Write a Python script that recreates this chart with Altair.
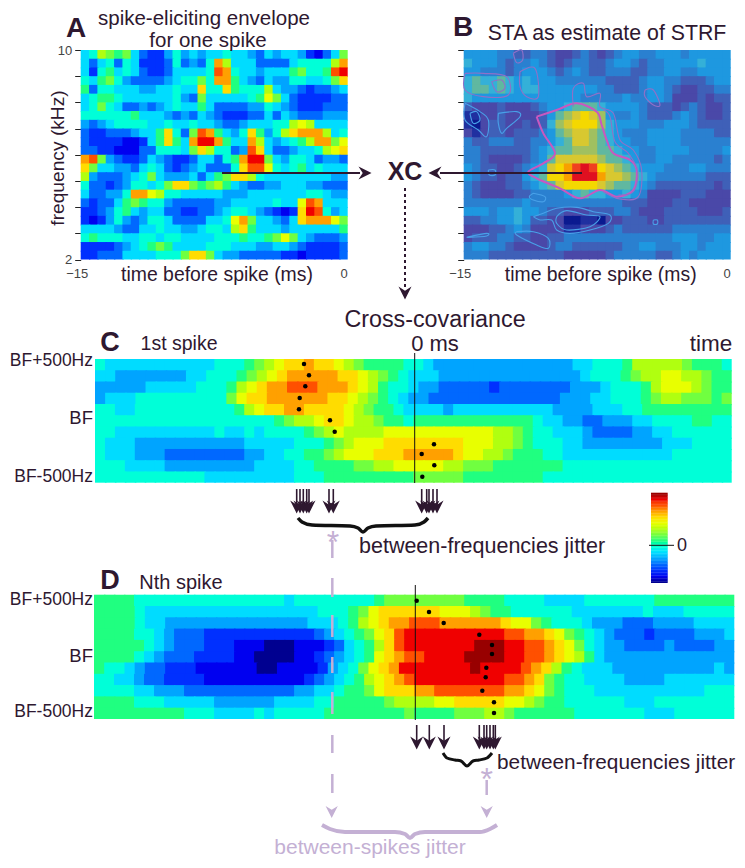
import altair as alt
import pandas as pd
import numpy as np

# ---------- data (hex digit = colour level 0..15) ----------
PANEL_A = [
"5698785322"+"4645455655"+"4354554213"+"58",
"5356365222"+"363436C955"+"5333356666"+"9C",
"5267565322"+"355556DC65"+"5455578667"+"DE",
"6578643333"+"456686CC75"+"4354466556"+"8B",
"7366555445"+"5655B66B76"+"6695443233"+"45",
"5677655555"+"5643855555"+"67A8532222"+"33",
"5686533434"+"5655753333"+"4465432223"+"33",
"6666667555"+"4343543222"+"3353543334"+"44",
"4345666655"+"6556554334"+"555669A955"+"55",
"3223334557"+"B638DC7546"+"B7469BCCC9"+"56",
"3222211257"+"B75CEEC755"+"C9545679CC"+"8A",
"3322111336"+"6658B96634"+"DB53345569"+"AB",
"CD84322354"+"322355367C"+"EE85466534"+"43",
"B855443565"+"323453336B"+"DDA6567565"+"55",
"9433345685"+"44453578BB"+"9655555555"+"44",
"6332346656"+"8BB8789754"+"3344555443"+"33",
"533446CCA9"+"6655555444"+"5555555665"+"44",
"3233578766"+"4333334455"+"555655ADC5"+"55",
"2234675455"+"3322334566"+"543212BED6"+"45",
"2124643466"+"53333556AC"+"855435BCCC"+"A8",
"5555433556"+"554456659B"+"7555455555"+"57",
"6766655665"+"6655556667"+"6678A85433"+"34",
"2222345678"+"7555566655"+"5445543222"+"23",
"2233355556"+"668BB85443"+"3333221222"+"23",
]
PANEL_B = [
"5555443344"+"3223432345"+"5445554555"+"55",
"6555434454"+"3234433455"+"4344555565"+"55",
"5544434555"+"4345433444"+"3344554455"+"55",
"6766765655"+"5444444333"+"3455443334"+"55",
"6776765665"+"5555554433"+"3455432233"+"44",
"6555555555"+"5555444445"+"4455422232"+"33",
"3222322234"+"5567776555"+"5433323432"+"23",
"1122322223"+"5789A98544"+"5433345432"+"23",
"1023322323"+"689AAA8655"+"5444555433"+"33",
"2123323334"+"5789987654"+"4455554444"+"33",
"4334443344"+"5679987655"+"4455554444"+"44",
"4433333345"+"6778887765"+"5445555444"+"45",
"4432222345"+"7999998776"+"5445544444"+"34",
"5433223456"+"9ABCDCA987"+"6555444554"+"44",
"5433233567"+"AABDDDB998"+"7654444443"+"33",
"4322233456"+"79AAAA9877"+"6543333333"+"23",
"4322223344"+"4456766556"+"5422223332"+"22",
"4444444544"+"4444444443"+"3322233222"+"22",
"5554556554"+"3322233344"+"3222333322"+"23",
"3344556533"+"2200110223"+"3322333333"+"33",
"2223345422"+"2211222343"+"3333344444"+"44",
"2333443322"+"3344444444"+"4444455544"+"55",
"4554432222"+"3443333334"+"4554445545"+"55",
"4443333333"+"3322222344"+"4443345455"+"55",
]
PANEL_C = [
"65555555555566678"+"9ABBCBBA9877776"+"6544444444444444"+"5566679999987776",
"55444444455666789ABCCCCCBBA98765"+"5544444444444444"+"56667899AA99877",
"444445555566679ABCCDDDCCCBA97665"+"4433333233333334"+"44566679AAA9877",
"45556666666668ABBCCCCCCBBA987654"+"4333333333333344"+"455666789988878",
"6655666666666679ABBCCBBBBA987765"+"5554555555555544"+"4455566777777777",
"6666666666666666667899ABBA998776"+"7777777777776554"+"4334445566667766",
"665555555555655656666789A9999AAA"+"AAAAAAAA99876655"+"5433334455666666",
"65554444444444455555666789AAABBB"+"BBBBBAAA99876665"+"5444444445556666",
"6555444333333334455667789AAABBBC"+"CCCCBAA998777665"+"5555555555666666",
"666555544444444455556677778899AA"+"AAA99888777777766"+"666666666666666",
"66666666666555555555666777777777"+"8888877777777666"+"6666666666666666",
]
PANEL_D = [
"77776666666666666665666666667888"+"8888877776666555"+"5666666677777777",
"777765555555555555555566678ABBB"+"BBBAAA9877666666"+"5555555655566666",
"777765544444444444444555679ABCC"+"DDDCCCCCCBAA8766"+"6544433344445555",
"7777665433322222222222345678ABDE"+"EEEEEEEEEDDCCBA8"+"7654333233334445",
"77777654333222111000111235679BDE"+"EEEEEEFFFEEDDCBA"+"8654433334333344",
"7777654333222211000011234567ABCD"+"DEEEEFFFFEEDDCBA"+"9754444444444444",
"766543322211111100111124568ABCE"+"EEEEEEFEEEEDCB97"+"6555444444444454",
"6655433222211111111112345679ABCD"+"EEEEEEEEEDDCB876"+"6555544445555555",
"6666554443333333333344556778ABBB"+"CCDDDDDDDCCBA876"+"6655555555555666",
"77776665555544444455556677777899"+"99AABBBBBAA98776"+"6666655566666666",
"77777777766655556566666777777778"+"7777888998777777"+"6666666555666666",
]
C_DOTS_X = [304,309,305.3,299.7,299,330,334.7,434,421.7,434.3,422.3]
C_DOTS_Y = [364,375.3,386.3,398,409.3,420.3,431.7,444.3,454,465.3,476.7]
D_DOTS_X = [416.7,429,443.7,479.3,492,492,486.3,485.7,482.3,494,494]
D_DOTS_Y = [600.7,612,623,634.7,645,654,667.7,677.3,690.7,702.3,713]
C_ARROWS = [296.7,300,303.3,306.7,309,329,333.3,421.7,426.7,429,433,437]
D_ARROWS = [416.7,429.3,444,479.3,484,486.7,490,493.3,495.3]

JET = ["#000090","#0000f0","#0030ff","#0068ff","#00a4ff","#00dcff","#00ffd8","#20ff80",
       "#70ff40","#b0ff10","#e8ff00","#ffdc00","#ffa000","#ff5000","#f00000","#980000"]
STA = ["#0a1a90","#2030a0","#4a48a8","#3f60b8","#2a80d0","#1e98e0","#34b0d8","#60b8a0",
       "#a0c060","#d8c830","#f4d800","#f8a000","#f04020","#e01020","#e01020","#c00020"]
LEVELS = list(range(16))
INK = "#2e1830"
PALE = "#c4b0d4"

BRACE_C = ([298,302,312,350,358,363,368,376,415,424,428],[518,522,525,526,528,532,528,526,525,522,518])
BRACE_D = ([443,447,455,461,467,473,479,487,492],[753,758,760,761,766,761,760,758,753])
BRACE_P = ([322,330,345,395,405,410,415,425,480,490,497],[825,829,832,832,834,838,834,832,832,829,825])

THICK = [[(500,350),(560,330),(620,310),(680,335),(695,375),(710,420),(730,460),(780,480),(800,510),(790,570),
          (740,590),(690,570),(630,595),(570,565),(500,535),(475,515),(520,490),(555,460),(520,400),(500,350)]]
THIN_PINK = [[(285,220),(340,220),(410,230),(415,285),(340,290),(285,270),(285,220)],
             [(365,245),(395,240),(405,265),(380,275),(365,245)],
             [(450,215),(495,205),(505,290),(470,290),(450,260),(450,215)],
             [(430,160),(455,150),(458,180),(440,188),(430,160)],
             [(825,270),(850,270),(870,315),(850,315),(825,290),(825,270)],
             [(610,320),(610,265),(640,250),(650,290),(690,280),(690,320),(730,340),(750,420),(790,450),(815,510),(805,590),(750,597),(700,575)],
             [(700,330),(720,350),(735,425),(775,460),(803,515),(790,575),(745,585)]]
THIN_BLUE = [[(490,650),(520,640),(560,625),(620,622),(670,635),(720,645),(715,670),(660,690),(600,700),(560,690),(545,660),(510,660),(490,650)],
             [(560,650),(590,632),(650,645),(690,650),(660,680),(590,690),(560,670),(560,650)],
             [(285,310),(330,335),(355,360),(350,410),(325,390),(285,360),(285,310)],
             [(300,340),(320,335),(330,360),(310,370),(300,340)],
             [(385,340),(440,335),(450,350),(410,385),(395,400),(385,370),(385,340)],
             [(490,580),(525,590),(520,605),(490,600),(478,590),(490,580)],
             [(440,695),(490,695),(535,715),(535,745),(500,735),(440,705),(440,695)],
             [(295,710),(350,700),(350,708),(295,712),(295,710)],
             [(355,510),(375,510),(375,525),(358,525),(355,510)],
             [(850,660),(862,660),(862,672),(850,672),(850,660)]]

# ---------- helpers ----------
FX = alt.Scale(domain=[0,745], range=[-8,737])
FY = alt.Scale(domain=[0,868], range=[-8,860])
X = lambda f="x": alt.X(f"{f}:Q", scale=FX, axis=None)
Y = lambda f="y": alt.Y(f"{f}:Q", scale=FY, axis=None)

def cells(rows, x0, x1, y0, y1):
    out = []
    for r, row in enumerate(rows):
        n = len(row)
        for c, ch in enumerate(row):
            out.append(dict(x=x0+(x1-x0)*c/n,
                            x2=x1 if c == n-1 else x0+(x1-x0)*(c+1.15)/n,
                            y=y0+(y1-y0)*r/len(rows),
                            y2=y1 if r == len(rows)-1 else y0+(y1-y0)*(r+1.1)/len(rows),
                            v=int(ch,16)))
    return pd.DataFrame(out)

def heat(df, palette, xs, ys, xaxis=None, yaxis=None):
    return alt.Chart(df).mark_rect(strokeWidth=0).encode(
        x=alt.X("x:Q", scale=xs, axis=xaxis), x2="x2:Q",
        y=alt.Y("y:Q", scale=ys, axis=yaxis), y2="y2:Q",
        color=alt.Color("v:Q", scale=alt.Scale(domain=LEVELS, range=palette), legend=None))

def text(x, y, s, size, color=INK, bold=False, align="center", angle=0):
    kw = dict(angle=angle) if angle else {}
    return alt.Chart(pd.DataFrame(dict(x=[x],y=[y],s=[s]))).mark_text(
        font="Liberation Sans", fontSize=size, color=color, align=align, baseline="middle",
        fontWeight="bold" if bold else "normal", **kw).encode(x=X(), y=Y(), text="s:N")

def poly(xs, ys, color, width, dash=None, interp="linear"):
    kw = dict(strokeDash=dash) if dash else {}
    return alt.Chart(pd.DataFrame(dict(x=xs,y=ys,o=range(len(xs))))).mark_line(
        color=color, strokeWidth=width, interpolate=interp, **kw).encode(x=X(), y=Y(), order="o:Q")

def vrules(xs, y0, y1, color, width):
    return alt.Chart(pd.DataFrame(dict(x=xs,y=y0,y2=y1))).mark_rule(color=color, strokeWidth=width).encode(
        x=X(), y=Y(), y2="y2:Q")

ARROW = "M -1 -1 L 0 -0.35 L 1 -1 L 0 1 Z"
def heads(xs, ys, color, size, angle=0):
    kw = dict(angle=angle) if angle else {}
    return alt.Chart(pd.DataFrame(dict(x=xs,y=ys))).mark_point(
        shape=ARROW, filled=True, color=color, opacity=1, size=size, strokeWidth=0, **kw).encode(x=X(), y=Y())

def contours(groups, color, width):
    rows = []
    for g, pts in enumerate(groups):
        for o,(a,b) in enumerate(pts):
            rows.append(dict(x=370+a/3, y=b/3, g=g, o=o))
    return alt.Chart(pd.DataFrame(rows)).mark_line(color=color, strokeWidth=width, interpolate="cardinal").encode(
        x=X(), y=Y(), detail="g:N", order="o:Q")

def freq_axis(px, labels):
    return alt.Axis(values=list(range(2,11)), orient="left", offset=-(px-8), title=None, grid=False, domain=False,
                    ticks=True, tickSize=6, tickColor="#222222", labels=labels, labelFontSize=13,
                    labelFont="Liberation Sans", labelColor="#444444", labelPadding=3,
                    labelExpr="datum.value==10||datum.value==2 ? datum.label : ''")
def time_axis(bottom):
    return alt.Axis(values=[-15,0], orient="bottom", offset=-(852-(bottom-8)), title=None, grid=False, domain=False,
                    ticks=False, labelFontSize=13, labelFont="Liberation Sans", labelColor="#444444", labelPadding=8,
                    labelFlush=False, labelOffset=-4)

# ---------- heatmaps through their own scales ----------
a_x0,a_x1,b_x0,b_x1 = 80.7,347.7,463.7,730.7
top,bot = 50,259.5
a = heat(cells(PANEL_A,-15,0,10,2), JET,
         alt.Scale(domain=[-15,0], range=[a_x0-8,a_x1-8]), alt.Scale(domain=[2,10], range=[bot-8,top-8]),
         time_axis(bot), freq_axis(a_x0, True))
b = heat(cells(PANEL_B,-15,0,10,2), STA,
         alt.Scale(domain=[-15,0], range=[b_x0-8,b_x1-8]), alt.Scale(domain=[2,10], range=[bot-8,top-8]),
         time_axis(bot), freq_axis(b_x0, False))
c = heat(cells(PANEL_C,0,1,0,1), JET,
         alt.Scale(domain=[0,1], range=[95-8,731.7-8]), alt.Scale(domain=[0,1], range=[359-8,482.7-8]))
d = heat(cells(PANEL_D,0,1,0,1), JET,
         alt.Scale(domain=[0,1], range=[94-8,734.3-8]), alt.Scale(domain=[0,1], range=[594.7-8,719-8]))
bar_levels = np.arange(0,15.01,0.25)
bar = pd.DataFrame(dict(x=0,x2=1,y=bar_levels,y2=bar_levels+0.3,v=bar_levels))
cbar = heat(bar, JET, alt.Scale(domain=[0,1], range=[651-8,667.7-8]),
            alt.Scale(domain=[0,15.25], range=[583-8,493-8]))

# ---------- annotation layers ----------
marks = [a,b,c,d,cbar,
    contours(THICK,"#c858c0",2), contours(THIN_PINK,"#9070c8",1.1), contours(THIN_BLUE,"#48a0e8",1.1),
    # arrows A/B -> XC
    poly([222,360],[173,173],INK,2), heads([365],[173],INK,170,270),
    poly([582,440],[173,173],INK,2), heads([435],[173],INK,170,90),
    poly([405,405],[188,288],INK,2,[3,3]), heads([405],[293],INK,170),
    # zero lines
    vrules([414.7],[353],[483],"#111111",1), vrules([415.3],[585],[720],"#111111",1),
    # pale jitter guides
    vrules([332.3]*7,[540,578,615,657,692,735,774],[558,597,637,673,714,753,793],PALE,2.5),
    vrules([486.7],[780],[795],PALE,2.5),
    heads([331.7,486.7],[812,812],PALE,150),
    poly(*BRACE_P,PALE,4,interp="monotone"),
    text(333,543,"*",32,PALE), text(486.7,780,"*",32,PALE),
    # spike arrows
    vrules(C_ARROWS,[489]*12,[506]*12,INK,1.6), heads(C_ARROWS,[507]*12,INK,170),
    vrules(D_ARROWS,[725]*9,[742]*9,INK,1.6), heads(D_ARROWS,[743]*9,INK,170),
    poly(*BRACE_C,"#111111",3.5,interp="monotone"), poly(*BRACE_D,"#111111",3,interp="monotone"),
    # peak dots
    alt.Chart(pd.DataFrame(dict(x=C_DOTS_X+D_DOTS_X,y=C_DOTS_Y+D_DOTS_Y))).mark_point(
        shape="circle",filled=True,color="#000000",size=20,opacity=1).encode(x=X(),y=Y()),
    # colourbar tick
    poly([649,674],[545.3,545.3],"#111111",1),
    # texts
    text(76,29,"A",28,INK,True), text(204,19,"spike-eliciting envelope",20.5), text(208,40.5,"for one spike",20.5),
    text(463,28,"B",28,INK,True), text(607,34,"STA as estimate of STRF",21.3),
    text(58,158,"frequency (kHz)",19.2,angle=270),
    text(217,275,"time before spike (ms)",19.4), text(600.7,275,"time before spike (ms)",19.4),
    text(405,172,"XC",25,INK,True),
    text(435,320,"Cross-covariance",23.3),
    text(110,343,"C",27,INK,True), text(179,344,"1st spike",19.5), text(435,344,"0 ms",22), text(711,344,"time",22.5),
    text(93,361,"BF+500Hz",17.5,align="right"), text(93,418,"BF",18.5,align="right"), text(93,477,"BF-500Hz",17.5,align="right"),
    text(110,581,"D",27,INK,True), text(181,583,"Nth spike",20),
    text(93,600,"BF+500Hz",17.5,align="right"), text(93,656,"BF",18.5,align="right"), text(93,712,"BF-500Hz",17.5,align="right"),
    text(359,547,"between-frequencies jitter",21.5,align="left"),
    text(497,763,"between-frequencies jitter",20.8,align="left"),
    text(682,546,"0",18),
    text(370,848,"between-spikes jitter",21,PALE),
]

chart = alt.layer(*marks).resolve_scale(x="independent", y="independent", color="independent").properties(
    width=729, height=852, padding=0, autosize=alt.AutoSizeParams(type="none"),
    background="white").configure_view(stroke=None)

chart.save("out.html", embed_options={"renderer": "svg", "actions": False})
